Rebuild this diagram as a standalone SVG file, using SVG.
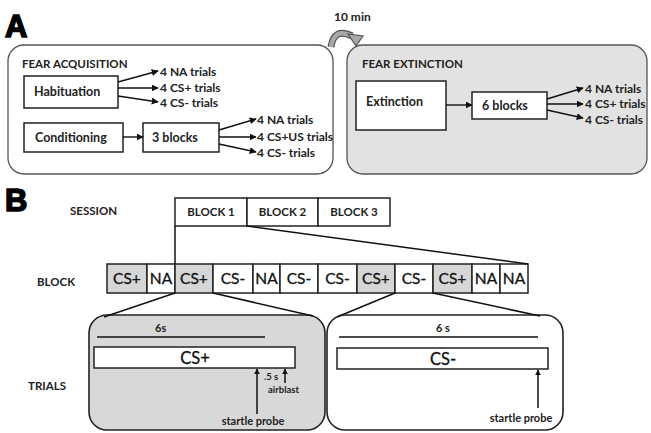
<svg xmlns="http://www.w3.org/2000/svg" width="651" height="433" viewBox="0 0 651 433">
<defs>
<marker id="ah" viewBox="0 0 10 10" refX="9" refY="5" markerWidth="7" markerHeight="7" markerUnits="userSpaceOnUse" orient="auto"><path d="M0,0 L10,5 L0,10 z" fill="#111"/></marker>
<marker id="ah2" viewBox="0 0 10 10" refX="9" refY="5" markerWidth="6" markerHeight="6" markerUnits="userSpaceOnUse" orient="auto"><path d="M0,0 L10,5 L0,10 z" fill="#111"/></marker>
</defs>
<style>
text{font-family:Lato,"Open Sans","Liberation Sans",sans-serif;font-weight:bold;fill:#222}
.big{font-family:"Liberation Sans",Arial,sans-serif;font-size:31px;fill:#000;stroke:#000;stroke-width:1.6}
.hd{font-size:11.5px}
.box{fill:#fff;stroke:#222;stroke-width:1.5}
.cell{stroke:#222;stroke-width:1.5}
.w{fill:#fff}.g{fill:#d6d6d6}
.t{font-size:12px}
.bx{font-size:12.5px}
.cs{font-size:15.5px;font-weight:normal;fill:#111;stroke:#111;stroke-width:0.3}
.sm{font-size:11px}
.xs{font-size:9.5px}
.ln{stroke:#111;stroke-width:1.5;fill:none}
.ar{stroke:#111;stroke-width:1.4;fill:none;marker-end:url(#ah)}
.ar2{stroke:#111;stroke-width:1.5;fill:none;marker-end:url(#ah2)}
</style>
<rect width="651" height="433" fill="#fff"/>
<text class="big" x="5" y="37">A</text>
<text class="big" x="5" y="211">B</text>

<g id="acquisition">
<rect x="8" y="45" width="325" height="129" rx="16" fill="#fff" stroke="#555" stroke-width="1.3"/>
<text class="hd" x="22" y="68">FEAR ACQUISITION</text>
</g>
<g id="habituation"><rect class="box" x="24" y="76" width="94" height="32"/><text class="bx" x="34" y="96">Habituation</text></g>
<g id="conditioning"><rect class="box" x="24" y="123" width="99" height="29"/><text class="bx" x="35" y="142">Conditioning</text></g>
<g id="blocks3"><rect class="box" x="143" y="123" width="76" height="29"/><text class="bx" x="152" y="142">3 blocks</text></g>
<g id="hab-out">
<text class="t" x="160" y="76">4 NA trials</text>
<text class="t" x="160" y="92">4 CS+ trials</text>
<text class="t" x="160" y="107">4 CS- trials</text>
</g>
<g id="cond-out">
<text class="t" x="257" y="124">4 NA trials</text>
<text class="t" x="257" y="141">4 CS+US trials</text>
<text class="t" x="257" y="157">4 CS- trials</text>
</g>

<g id="extinction-panel">
<rect x="347" y="45" width="300" height="129" rx="16" fill="#e2e2e2" stroke="#555" stroke-width="1.3"/>
<text class="hd" x="362" y="68">FEAR EXTINCTION</text>
</g>
<g id="extinction"><rect class="box" x="356" y="81" width="90" height="49"/><text class="bx" x="366" y="106">Extinction</text></g>
<g id="blocks6"><rect class="box" x="472" y="92" width="75" height="27"/><text class="bx" x="482" y="110">6 blocks</text></g>
<g id="ext-out">
<text class="t" x="585" y="93">4 NA trials</text>
<text class="t" x="585" y="108">4 CS+ trials</text>
<text class="t" x="585" y="124">4 CS- trials</text>
</g>

<g id="delay">
<text class="t" x="334" y="21">10 min</text>
<path d="M331,47 Q334,27 352,36" fill="none" stroke="#555" stroke-width="7"/>
<path d="M331,47 Q334,27 352,36" fill="none" stroke="#a8a8a8" stroke-width="4.5"/>
<path d="M348,34 L363,36 L356,46 z" fill="#a8a8a8" stroke="#555" stroke-width="1.2"/>
</g>

<g id="labels">
<text class="hd" x="70" y="215">SESSION</text>
<text class="hd" x="37" y="286">BLOCK</text>
<text class="hd" x="28" y="390">TRIALS</text>
</g>

<g id="session">
<rect class="box" x="175" y="198" width="72" height="28"/><text class="hd" x="211" y="216" text-anchor="middle">BLOCK 1</text>
<rect class="box" x="247" y="198" width="71" height="28"/><text class="hd" x="282.5" y="216" text-anchor="middle">BLOCK 2</text>
<rect class="box" x="318" y="198" width="72" height="28"/><text class="hd" x="354" y="216" text-anchor="middle">BLOCK 3</text>
</g>

<g id="block-row">
<rect class="cell g" x="107" y="264" width="40" height="29"/><text class="cs" x="127" y="284" text-anchor="middle">CS+</text>
<rect class="cell w" x="147" y="264" width="28" height="29"/><text class="cs" x="161" y="284" text-anchor="middle">NA</text>
<rect class="cell g" x="175" y="264" width="38" height="29"/><text class="cs" x="194" y="284" text-anchor="middle">CS+</text>
<rect class="cell w" x="213" y="264" width="40" height="29"/><text class="cs" x="233" y="284" text-anchor="middle">CS-</text>
<rect class="cell w" x="253" y="264" width="27" height="29"/><text class="cs" x="266.5" y="284" text-anchor="middle">NA</text>
<rect class="cell w" x="280" y="264" width="38" height="29"/><text class="cs" x="299" y="284" text-anchor="middle">CS-</text>
<rect class="cell w" x="318" y="264" width="39" height="29"/><text class="cs" x="337.5" y="284" text-anchor="middle">CS-</text>
<rect class="cell g" x="357" y="264" width="38" height="29"/><text class="cs" x="376" y="284" text-anchor="middle">CS+</text>
<rect class="cell w" x="395" y="264" width="38" height="29"/><text class="cs" x="414" y="284" text-anchor="middle">CS-</text>
<rect class="cell g" x="433" y="264" width="39" height="29"/><text class="cs" x="452.5" y="284" text-anchor="middle">CS+</text>
<rect class="cell w" x="472" y="264" width="28" height="29"/><text class="cs" x="486" y="284" text-anchor="middle">NA</text>
<rect class="cell w" x="500" y="264" width="28" height="29"/><text class="cs" x="514" y="284" text-anchor="middle">NA</text>
</g>

<g id="trial-csplus">
<rect x="89" y="315" width="236" height="115" rx="18" fill="#d8d8d8" stroke="#222" stroke-width="1.6"/>
<line class="ln" x1="97" y1="337" x2="265" y2="337"/>
<text class="sm" x="155" y="332">6s</text>
<rect class="box" x="94" y="347" width="201" height="21"/>
<text class="cs" x="195" y="364" text-anchor="middle" style="font-size:16.5px">CS+</text>
<text class="xs" x="264" y="380">.5 s</text>
<text class="xs" x="268" y="393">airblast</text>
<text class="sm" x="253" y="425" text-anchor="middle">startle probe</text>
</g>

<g id="trial-csminus">
<rect x="327" y="315" width="236" height="115" rx="18" fill="#fff" stroke="#222" stroke-width="1.6"/>
<line class="ln" x1="339" y1="337" x2="538" y2="337"/>
<text class="sm" x="443" y="332" text-anchor="middle">6 s</text>
<rect class="box" x="337" y="348" width="211" height="21"/>
<text class="cs" x="443" y="365" text-anchor="middle" style="font-size:16.5px">CS-</text>
<text class="sm" x="521" y="422" text-anchor="middle">startle probe</text>
</g>

<g id="connectors">
<line class="ar" x1="118" y1="82" x2="158" y2="71"/>
<line class="ar" x1="118" y1="88" x2="158" y2="88"/>
<line class="ar" x1="118" y1="96" x2="158" y2="102"/>
<line class="ar" x1="123" y1="137" x2="143" y2="137"/>
<line class="ar" x1="219" y1="130" x2="256" y2="119"/>
<line class="ar" x1="219" y1="137" x2="256" y2="137"/>
<line class="ar" x1="219" y1="144" x2="256" y2="152"/>
<line class="ar" x1="446" y1="105" x2="472" y2="105"/>
<line class="ar" x1="547" y1="99" x2="583" y2="88"/>
<line class="ar" x1="547" y1="104" x2="583" y2="104"/>
<line class="ar" x1="547" y1="110" x2="583" y2="118"/>
<line class="ln" x1="175" y1="226" x2="175" y2="264"/>
<line class="ln" x1="247" y1="226" x2="528" y2="264"/>
<line class="ln" x1="175" y1="293" x2="104" y2="317"/>
<line class="ln" x1="213" y1="293" x2="313" y2="316"/>
<line class="ln" x1="395" y1="293" x2="337" y2="317"/>
<line class="ln" x1="433" y1="293" x2="540" y2="316"/>
<line class="ar2" x1="257" y1="414" x2="257" y2="369"/>
<line class="ar2" x1="285" y1="383" x2="285" y2="369"/>
<line class="ar2" x1="538" y1="408" x2="538" y2="370"/>
</g>
</svg>
